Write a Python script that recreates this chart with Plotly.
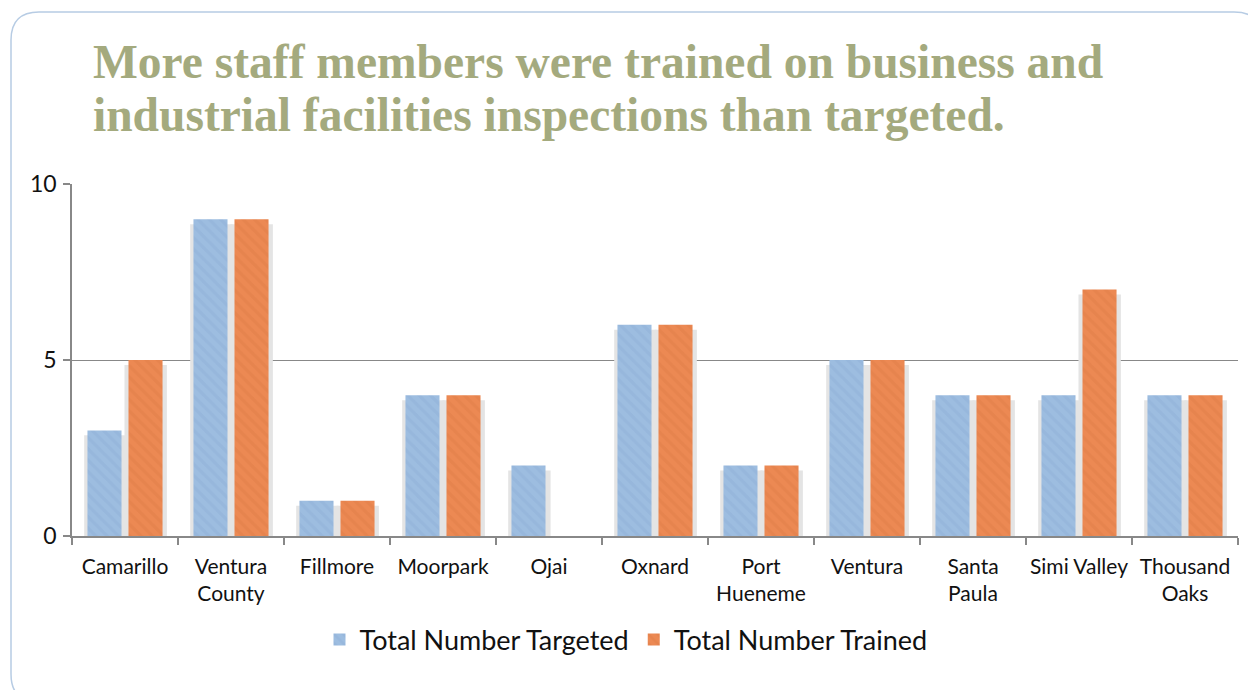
import plotly.graph_objects as go

categories = ["Camarillo", "Ventura<br>County", "Fillmore", "Moorpark", "Ojai", "Oxnard",
              "Port<br>Hueneme", "Ventura", "Santa<br>Paula", "Simi Valley", "Thousand<br>Oaks"]
targeted = [3, 9, 1, 4, 2, 6, 2, 5, 4, 4, 4]
trained = [5, 9, 1, 4, None, 6, 2, 5, 4, 7, 4]
series_names = ["Total Number Targeted", "Total Number Trained"]
y_ticks = [0, 5, 10]

title_lines = ["More staff members were trained on business and",
               "industrial facilities inspections than targeted."]

W, H = 1248, 690
ML, MR, MT, MB = 72, 10, 184, 154
PW, PH = W - ML - MR, H - MT - MB

def px(x):
    return (x - ML) / PW

def py(y):
    return (H - MB - y) / PH

BLUE = "#9DBDE0"
BLUE_FG = "#7FA2CC"
ORANGE = "#EC8953"
ORANGE_FG = "#CF6E3A"
SHADOW = "#E4E4E4"

fig = go.Figure()

# shadows (drawn on the main axis, beneath the bars)
for vals, off in [(targeted, -0.385), (trained, -0.005)]:
    fig.add_trace(go.Bar(
        x=categories, y=vals, base=-0.14, width=0.40, offset=off,
        marker=dict(color=SHADOW, line=dict(width=0)),
        showlegend=False, hoverinfo="skip", yaxis="y", xaxis="x",
    ))

for name, vals, col, fg in [(series_names[0], targeted, BLUE, BLUE_FG),
                            (series_names[1], trained, ORANGE, ORANGE_FG)]:
    fig.add_trace(go.Bar(
        x=categories, y=vals, name=name, yaxis="y2", xaxis="x",
        marker=dict(color=col, line=dict(width=0),
                    pattern=dict(shape="\\", size=8, solidity=0.4,
                                 fgcolor=fg, fgopacity=0.22)),
    ))

# rounded frame
x0, y0, x1, y1, r = 11, 12, 1262, 702, 28
path = (f"M {px(x0)},{py(y0 + r)} Q {px(x0)},{py(y0)} {px(x0 + r)},{py(y0)} "
        f"L {px(x1 - r)},{py(y0)} Q {px(x1)},{py(y0)} {px(x1)},{py(y0 + r)} "
        f"L {px(x1)},{py(y1 - r)} Q {px(x1)},{py(y1)} {px(x1 - r)},{py(y1)} "
        f"L {px(x0 + r)},{py(y1)} Q {px(x0)},{py(y1)} {px(x0)},{py(y1 - r)} Z")
fig.add_shape(type="path", xref="paper", yref="paper", path=path,
              line=dict(color="#B7CCE4", width=1.5), layer="below")

TITLE_COLOR = "#A4AA7E"
for i, line in enumerate(title_lines):
    fig.add_annotation(text=f"<b>{line}</b>", xref="paper", yref="paper",
                       x=px(91), y=py(62 + 53 * i), xanchor="left", yanchor="middle",
                       showarrow=False,
                       font=dict(family="Liberation Serif", size=47.5, color=TITLE_COLOR))

fig.update_layout(
    width=W, height=H, autosize=False,
    margin=dict(l=ML, r=MR, t=MT, b=MB, autoexpand=False),
    paper_bgcolor="white", plot_bgcolor="white",
    barmode="group", bargap=0.226, bargroupgap=0.17,
    font=dict(family="Lato", size=21, color="#111111"),
    xaxis=dict(showline=True, linecolor="#888888", linewidth=1.5,
               ticks="outside", tickson="boundaries", ticklen=7, tickcolor="#888888",
               tickwidth=1.5, tickfont=dict(size=21, family="Lato", color="#111111"),
               ticklabelstandoff=11, tickangle=0, automargin=False,
               showgrid=False, zeroline=False),
    yaxis=dict(range=[0, 10], tickvals=y_ticks, showline=True, linecolor="#888888",
               linewidth=1.5, ticks="outside", ticklen=7, tickcolor="#888888", tickwidth=1.5,
               showgrid=True, gridcolor="#888888", gridwidth=1.2, zeroline=False,
               automargin=False, ticklabelstandoff=2,
               tickfont=dict(size=23, family="Lato", color="#111111")),
    yaxis2=dict(range=[0, 10], overlaying="y", visible=False),
    legend=dict(orientation="h", x=px(626), xanchor="center", y=py(640), yanchor="middle",
                font=dict(size=27, family="Lato", color="#111111"),
                itemsizing="constant", traceorder="normal"),
    showlegend=True,
)

fig.write_html("out.html", config={"displayModeBar": False},
               post_script="document.body.style.margin='0';")
